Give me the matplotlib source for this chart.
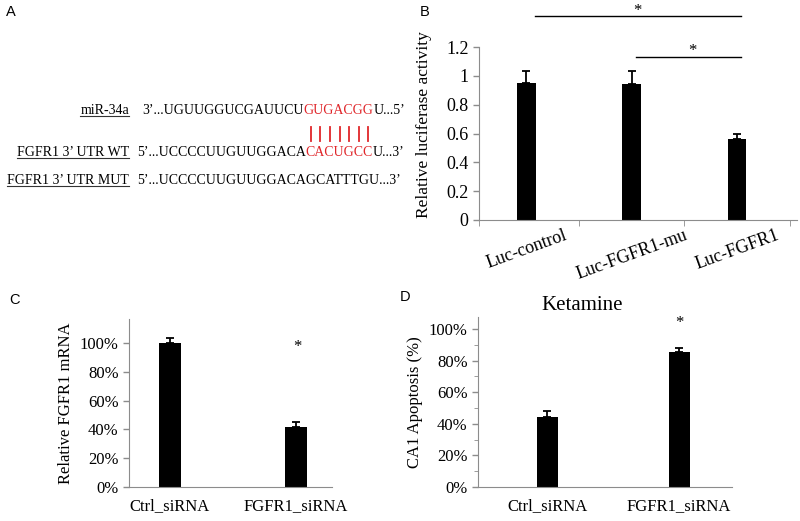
import numpy as np
import matplotlib
matplotlib.use("Agg")
import matplotlib.pyplot as plt
from matplotlib.lines import Line2D
from matplotlib.ticker import PercentFormatter, MultipleLocator

plt.rcParams['font.family'] = ['Liberation Serif', 'DejaVu Serif']

# panel A sequences
mir_name = "miR-34a"
mir_seq = ["3’...UGUUGGUCGAUUCU", "GUGACGG", "U...5’"]
wt_name = "FGFR1 3’ UTR WT"
wt_seq = ["5’...UCCCCUUGUUGGACA", "CACUGCC", "U...3’"]
mut_name = "FGFR1 3’ UTR MUT"
mut_seq = ["5’...UCCCCUUGUUGGACAGCATTTGU...3’"]

# panel B luciferase
luc_labels = ["Luc-control", "Luc-FGFR1-mu", "Luc-FGFR1"]
luc_vals = [0.95, 0.943, 0.562]
luc_err = [0.083, 0.09, 0.035]
luc_ticks = [0, 0.2, 0.4, 0.6, 0.8, 1.0, 1.2]
luc_tick_labels = ["0", "0.2", "0.4", "0.6", "0.8", "1", "1.2"]

# panels C / D
sirna_labels = ["Ctrl_siRNA", "FGFR1_siRNA"]
mrna_vals = [1.0, 0.415]
mrna_err = [0.035, 0.035]
apop_vals = [0.44, 0.854]
apop_err = [0.04, 0.028]
pct_ticks = [0, 0.2, 0.4, 0.6, 0.8, 1.0]

RED = '#e0262a'
GRAY = '#8c8c8c'

fig = plt.figure(figsize=(8, 5.21), dpi=100)

def fx(x):
    return x / 800

def fy(y):
    return 1 - y / 521

def style_axes(ax):
    for s in ['top', 'right']:
        ax.spines[s].set_visible(False)
    for s in ['left', 'bottom']:
        ax.spines[s].set_color(GRAY)
    ax.tick_params(colors=GRAY, labelcolor='black', width=1, length=4)

ebar = dict(ecolor='black', elinewidth=1.3, capthick=1.3)

# ---- panel labels
for lab, x, y in [("A", 11, 12), ("B", 425, 12), ("C", 14, 300), ("D", 405, 297)]:
    fig.text(fx(x), fy(y), lab, family='Liberation Sans', fontsize=10.5, ha='center', va='center')

# ---- panel A
axA = fig.add_axes([0, 0, 1, 1])
axA.axis('off')
axA.set_zorder(-1)

def seq_line(y, xseq, name, parts, colors):
    nm = axA.text(fx(129), fy(y), name, transform=fig.transFigure, ha='right', va='baseline', fontsize=10)
    prev = axA.text(fx(xseq), fy(y), parts[0], transform=fig.transFigure, ha='left', va='baseline',
                    fontsize=10, color=colors[0])
    arts = [prev]
    for p, c in zip(parts[1:], colors[1:]):
        prev = axA.annotate(p, xy=(1, 0), xycoords=prev, ha='left', va='bottom', fontsize=10, color=c)
        arts.append(prev)
    return nm, arts

nm1, a1 = seq_line(114, 142, mir_name, mir_seq, ['black', RED, 'black'])
nm2, a2 = seq_line(156, 137, wt_name, wt_seq, ['black', RED, 'black'])
nm3, a3 = seq_line(184, 137, mut_name, mut_seq, ['black'])

# ---- panel B
axB = fig.add_axes([fx(479), fy(220), fx(797) - fx(479), (220 - 47) / 521])
style_axes(axB)
xb = np.arange(len(luc_labels))
axB.bar(xb, luc_vals, width=0.18, color='black',
        yerr=[np.zeros(len(luc_err)), luc_err], capsize=3, error_kw=ebar)
axB.set_xlim(-0.45, 2.57)
axB.set_ylim(0, 1.2)
axB.set_yticks(luc_ticks)
axB.set_yticklabels(luc_tick_labels, fontsize=13)
axB.set_xticks(xb)
axB.set_xticklabels(luc_labels, rotation=20, fontsize=13, ha='center')
axB.tick_params(axis='x', which='major', length=0, pad=5)
axB.set_xticks([-0.45, 0.5, 1.5, 2.5], minor=True)
axB.tick_params(axis='x', which='minor', length=4, color=GRAY)
axB.set_ylabel('Relative luciferase activity', fontsize=12.5)
axB.yaxis.set_label_coords(-0.148, 0.55)
axB.plot([0.08, 2.04], [1.415, 1.415], color='black', lw=1, clip_on=False)
axB.plot([1.04, 2.04], [1.13, 1.13], color='black', lw=1, clip_on=False)
axB.text(1.05, 1.45, '*', ha='center', va='center', fontsize=12, clip_on=False)
axB.text(1.58, 1.17, '*', ha='center', va='center', fontsize=12, clip_on=False)

# ---- panel C
axC = fig.add_axes([fx(129), fy(487), fx(332) - fx(129), (487 - 319) / 521])
style_axes(axC)
xs = np.arange(len(sirna_labels))
axC.bar(xs, mrna_vals, width=0.175, color='black',
        yerr=[np.zeros(2), mrna_err], capsize=3, error_kw=ebar)
axC.set_xlim(-0.325, 1.286)
axC.set_ylim(0, 1.167)
axC.set_yticks(pct_ticks)
axC.yaxis.set_major_formatter(PercentFormatter(1.0, decimals=0))
axC.set_xticks(xs)
axC.set_xticklabels(sirna_labels)
axC.tick_params(axis='x', length=0, pad=8)
axC.tick_params(labelsize=12)
axC.set_ylabel('Relative FGFR1 mRNA', fontsize=12)
axC.text(1.01, 0.975, '*', ha='center', va='center', fontsize=12)

# ---- panel D
axD = fig.add_axes([fx(478), fy(487), fx(732) - fx(478), (487 - 317) / 521])
style_axes(axD)
axD.bar(xs, apop_vals, width=0.16, color='black',
        yerr=[np.zeros(2), apop_err], capsize=3, error_kw=ebar)
axD.set_xlim(-0.523, 1.40)
axD.set_ylim(0, 1.076)
axD.set_yticks(pct_ticks)
axD.yaxis.set_minor_locator(MultipleLocator(0.1))
axD.tick_params(axis='y', which='minor', length=3, color=GRAY)
axD.yaxis.set_major_formatter(PercentFormatter(1.0, decimals=0))
axD.set_xticks(xs)
axD.set_xticklabels(sirna_labels)
axD.tick_params(axis='x', length=0, pad=8)
axD.tick_params(axis='both', which='major', labelsize=12)
axD.set_ylabel('CA1 Apoptosis (%)', fontsize=12)
axD.set_title('Ketamine', fontsize=15, x=0.41, pad=5)
axD.text(1.0, 1.04, '*', ha='center', va='center', fontsize=12)

# ---- underlines and pairing lines need the text extents
fig.canvas.draw()
for t, y in [(nm1, 114), (nm2, 156), (nm3, 184)]:
    bb = t.get_window_extent()
    fig.add_artist(Line2D([bb.x0 / 800, bb.x1 / 800], [fy(y + 2), fy(y + 2)],
                          transform=fig.transFigure, color='#333333', lw=0.8))

bb = a2[1].get_window_extent()
n = len(wt_seq[1])
cw = (bb.x1 - bb.x0) / n
for i in range(n):
    xc = (bb.x0 + (i + 0.5) * cw) / 800
    fig.add_artist(Line2D([xc, xc], [fy(127), fy(141)], transform=fig.transFigure, color=RED, lw=1.3))

fig.savefig('out.png', dpi=100)
